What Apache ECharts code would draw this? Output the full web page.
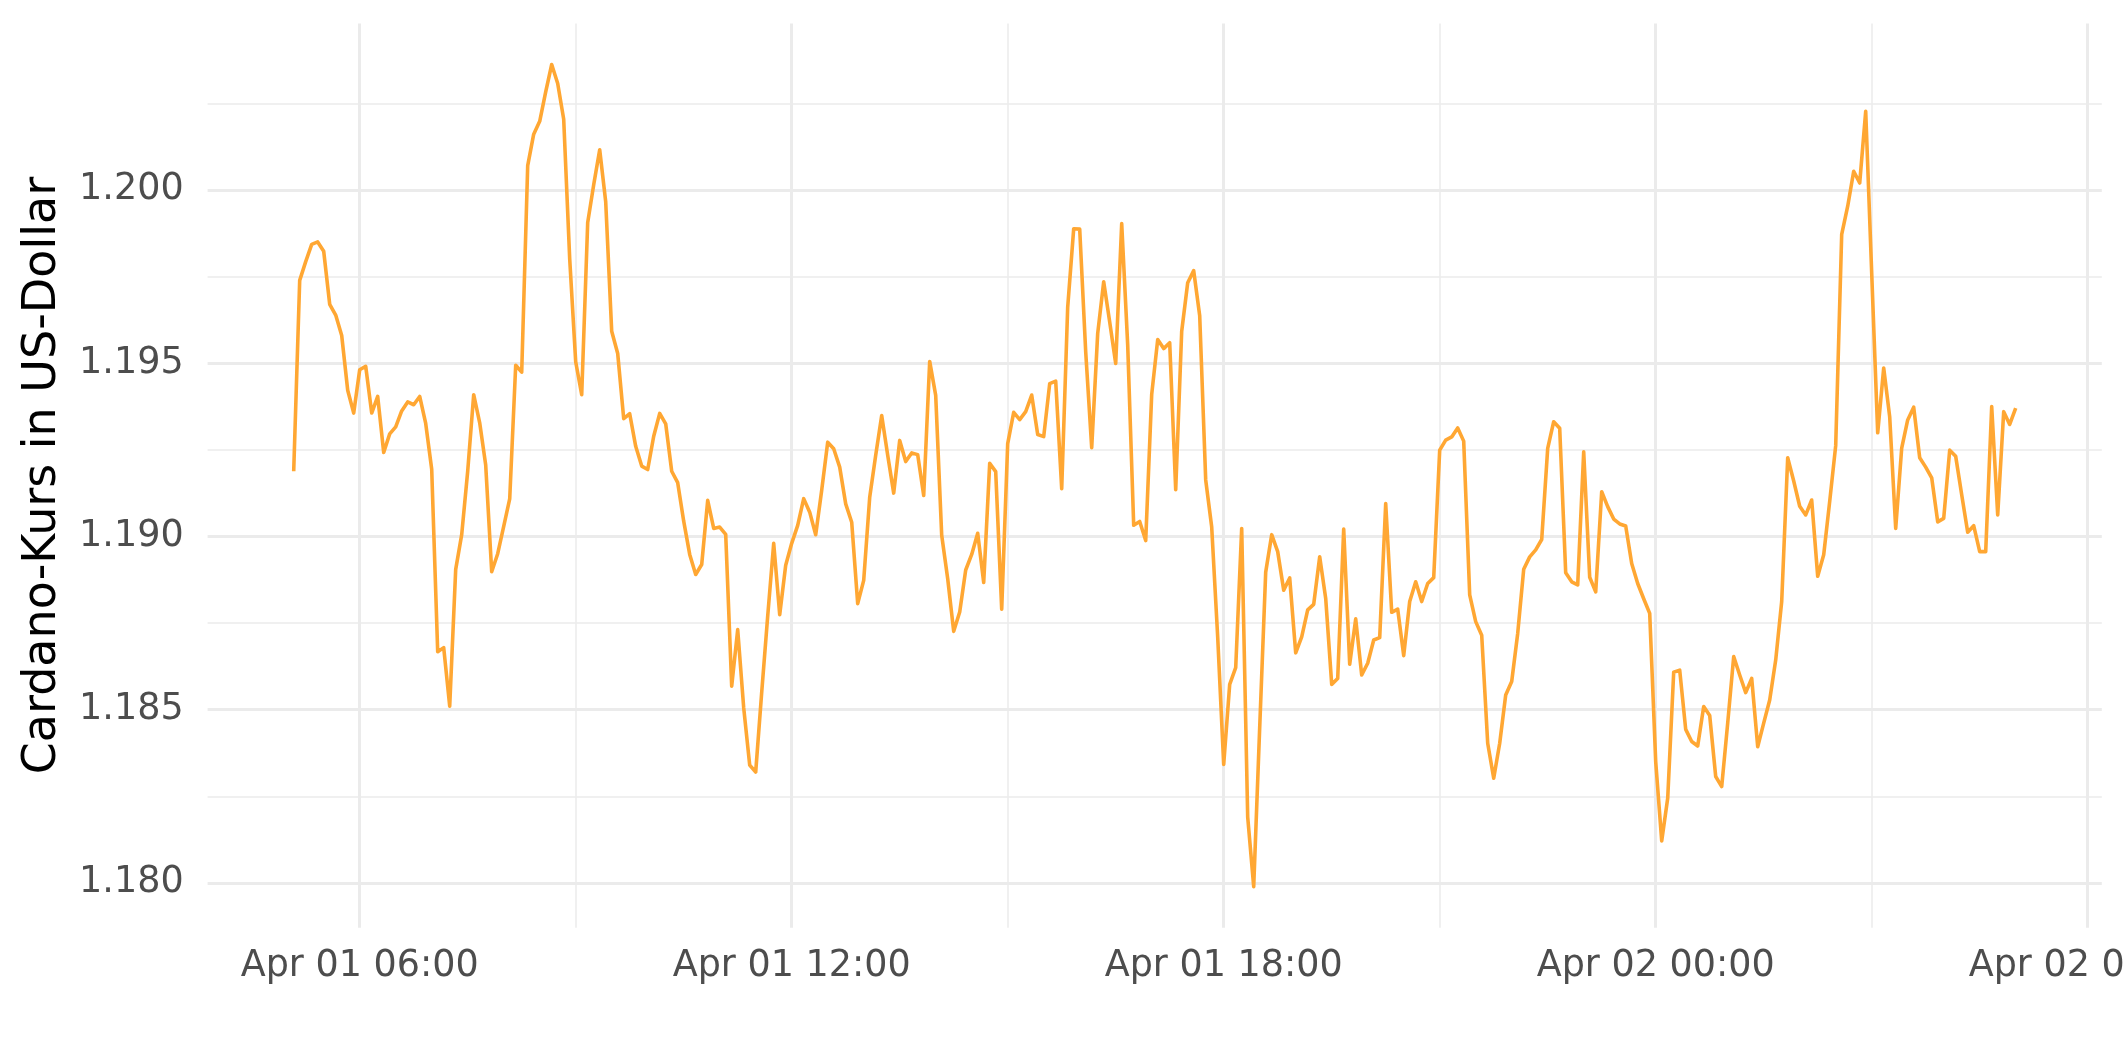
<!DOCTYPE html>
<html>
<head>
<meta charset="utf-8">
<script src="https://cdn.jsdelivr.net/npm/echarts@6/dist/echarts.min.js"></script>
<style>
html,body{margin:0;padding:0;background:#fff;}
#chart{width:2125px;height:1062px;}
</style>
</head>
<body>
<div id="chart"></div>
<script>
// Cardano price (USD), 5-minute steps starting Apr 01 05:05
const pricesBlock1 = [ // 05:05 - 11:00
 1.19188,1.19739,1.19793,1.19843,1.19850,1.19823,1.19670,1.19639,1.19580,1.19422,1.19356,1.19481,
 1.19491,1.19356,1.19404,1.19242,1.19296,1.19316,1.19362,1.19388,1.19380,1.19404,1.19326,1.19194,
 1.18667,1.18679,1.18510,1.18905,1.19005,1.19188,1.19409,1.19328,1.19206,1.18898,1.18950,1.19029,
 1.19108,1.19494,1.19474,1.20070,1.20161,1.20198,1.20283,1.20362,1.20307,1.20204,1.19801,1.19504,
 1.19409,1.19906,1.20015,1.20116,1.19966,1.19592,1.19528,1.19340,1.19354,1.19260,1.19203,1.19193,
 1.19289,1.19355,1.19325,1.19188,1.19155,1.19044,1.18948,1.18890,1.18919,1.19104,1.19023,1.19027
];
const pricesBlock2 = [ // 11:05 - 17:00
 1.19006,1.18568,1.18731,1.18505,1.18340,1.18320,1.18550,1.18770,1.18980,1.18774,1.18917,1.18980,
 1.19032,1.19109,1.19070,1.19005,1.19133,1.19272,1.19253,1.19200,1.19094,1.19041,1.18806,1.18873,
 1.19113,1.19234,1.19349,1.19234,1.19125,1.19277,1.19216,1.19241,1.19236,1.19118,1.19505,1.19407,
 1.19003,1.18878,1.18726,1.18782,1.18903,1.18948,1.19009,1.18867,1.19211,1.19187,1.18790,1.19268,
 1.19358,1.19337,1.19360,1.19408,1.19294,1.19288,1.19441,1.19448,1.19138,1.19662,1.19888,1.19887,
 1.19533,1.19256,1.19586,1.19735,1.19619,1.19499,1.19903,1.19552,1.19032,1.19043,1.18988,1.19410
];
const pricesBlock3 = [ // 17:05 - 23:00
 1.19568,1.19542,1.19559,1.19135,1.19592,1.19732,1.19767,1.19637,1.19163,1.19027,1.18709,1.18342,
 1.18573,1.18621,1.19023,1.18190,1.17989,1.18449,1.18897,1.19005,1.18956,1.18845,1.18880,1.18664,
 1.18710,1.18788,1.18804,1.18941,1.18821,1.18573,1.18590,1.19021,1.18631,1.18762,1.18600,1.18634,
 1.18701,1.18708,1.19095,1.18781,1.18790,1.18656,1.18812,1.18869,1.18812,1.18864,1.18881,1.19249,
 1.19278,1.19287,1.19313,1.19275,1.18831,1.18754,1.18715,1.18403,1.18302,1.18403,1.18542,1.18581,
 1.18720,1.18905,1.18941,1.18961,1.18991,1.19254,1.19331,1.19312,1.18895,1.18869,1.18860,1.19244
];
const pricesBlock4 = [ // 23:05 - 05:00 (Apr 02)
 1.18882,1.18840,1.19129,1.19086,1.19050,1.19036,1.19030,1.18922,1.18864,1.18820,1.18778,1.18350,
 1.18121,1.18244,1.18608,1.18614,1.18443,1.18408,1.18395,1.18509,1.18483,1.18307,1.18278,1.18461,
 1.18653,1.18600,1.18549,1.18590,1.18393,1.18461,1.18528,1.18643,1.18812,1.19227,1.19160,1.19087,
 1.19062,1.19105,1.18885,1.18947,1.19101,1.19262,1.19872,1.19953,1.20054,1.20020,1.20227,1.19760,
 1.19299,1.19486,1.19345,1.19023,1.19255,1.19336,1.19373,1.19227,1.19200,1.19169,1.19042,1.19052,
 1.19249,1.19231,1.19120,1.19012,1.19031,1.18956,1.18956,1.19375,1.19062,1.19360,1.19323,1.19370
];
const startHour = 5 + 5/60;   // Apr 01 05:05 (hours since Apr 01 00:00)
const stepHour = 5/60;
const xTickHours = [6, 12, 18, 24, 30];
const xTickLabels = ['Apr 01 06:00', 'Apr 01 12:00', 'Apr 01 18:00', 'Apr 02 00:00', 'Apr 02 06:00'];
const yTickValues = [1.180, 1.185, 1.190, 1.195, 1.200];
const yTickLabels = ['1.180', '1.185', '1.190', '1.195', '1.200'];
const yTitle = 'Cardano-Kurs in US-Dollar';

const prices = pricesBlock1.concat(pricesBlock2, pricesBlock3, pricesBlock4);
const seriesData = prices.map((p, i) => [startHour + i * stepHour, p]);

const xs = seriesData.map(d => d[0]);
const xMinD = Math.min(...xs), xMaxD = Math.max(...xs);
const yMinD = Math.min(...prices), yMaxD = Math.max(...prices);
const xPad = (xMaxD - xMinD) * 0.05, yPad = (yMaxD - yMinD) * 0.05;

const FONT = 'DejaVu Sans';
const GRID = '#EBEBEB';
const LINE = '#FFA733';

const chart = echarts.init(document.getElementById('chart'), null, {renderer: 'canvas'});
chart.setOption({
  animation: false,
  backgroundColor: '#ffffff',
  grid: {left: 207.6, right: 23.2, top: 23.4, bottom: 134.2, containLabel: false, outerBoundsMode: 'none'},
  xAxis: {
    type: 'value',
    min: xMinD - xPad, max: xMaxD + xPad,
    minInterval: 6, maxInterval: 6,
    axisLine: {show: false}, axisTick: {show: false},
    axisLabel: {
      show: true, margin: 20, color: '#4D4D4D', fontSize: 36.5, fontFamily: FONT,
      showMinLabel: false, showMaxLabel: false,
      formatter: function (v) {
        for (let k = 0; k < xTickHours.length; k++) if (Math.abs(v - xTickHours[k]) < 1e-6) return xTickLabels[k];
        return '';
      }
    },
    splitLine: {show: true, showMinLine: false, showMaxLine: false, lineStyle: {color: GRID, width: 3}},
    minorTick: {show: false, splitNumber: 2},
    minorSplitLine: {show: true, lineStyle: {color: GRID, width: 1.5}}
  },
  yAxis: {
    type: 'value',
    min: yMinD - yPad, max: yMaxD + yPad,
    minInterval: 0.005, maxInterval: 0.005,
    axisLine: {show: false}, axisTick: {show: false},
    axisLabel: {
      show: true, margin: 24, color: '#4D4D4D', fontSize: 36.5, fontFamily: FONT,
      showMinLabel: false, showMaxLabel: false,
      formatter: function (v) {
        for (let k = 0; k < yTickValues.length; k++) if (Math.abs(v - yTickValues[k]) < 1e-7) return yTickLabels[k];
        return '';
      }
    },
    splitLine: {show: true, showMinLine: false, showMaxLine: false, lineStyle: {color: GRID, width: 3}},
    minorTick: {show: false, splitNumber: 2},
    minorSplitLine: {show: true, lineStyle: {color: GRID, width: 1.5}},
    name: yTitle, nameLocation: 'middle', nameRotate: 90, nameGap: 142,
    nameTextStyle: {color: '#000000', fontSize: 46, fontFamily: FONT}
  },
  series: [{
    type: 'line',
    data: seriesData,
    showSymbol: false,
    symbol: 'none',
    smooth: false,
    clip: true,
    lineStyle: {color: LINE, width: 3.6, join: 'round', cap: 'butt'},
    itemStyle: {color: LINE},
    emphasis: {disabled: true}
  }]
});
</script>
</body>
</html>
